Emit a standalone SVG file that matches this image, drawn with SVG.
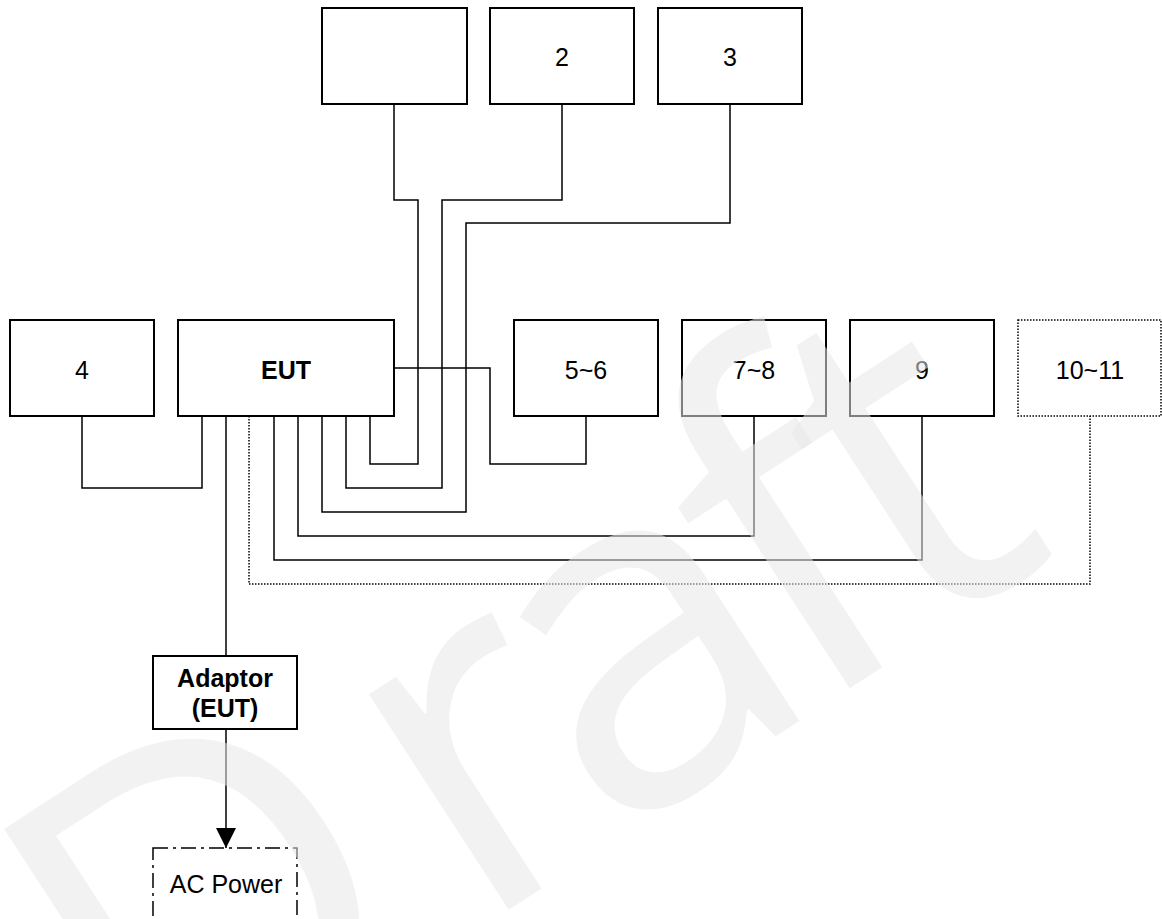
<svg xmlns="http://www.w3.org/2000/svg" width="1162" height="919" viewBox="0 0 1162 919">
<defs>
<style>
.box{fill:#fff;stroke:#000;stroke-width:2}
.dotbox{fill:#fff;stroke:#000;stroke-width:1.5;stroke-dasharray:1.5 1.5}
.ddbox{fill:#fff;stroke:#000;stroke-width:1.5;stroke-dasharray:15 5 3 5}
.lbl{font-family:"Liberation Sans",Arial,sans-serif;font-size:25px;text-anchor:middle;fill:#000}
.b{font-weight:bold}
.conn{fill:none;stroke:#000;stroke-width:1.5}
.dot{stroke-dasharray:1.5 1.5}
.wm{font-family:"Open Sans","Liberation Sans",sans-serif;font-size:480px;fill:#e7e7e7;fill-opacity:0.55}
</style>
<marker id="arr" markerWidth="20" markerHeight="20" refX="20" refY="10" orient="auto" markerUnits="userSpaceOnUse">
<path d="M0,0 L20,10 L0,20 z" fill="#000"/>
</marker>
</defs>
<rect width="1162" height="919" fill="#fff"/>
<g id="connectors">
<path class="conn" d="M394,104 V200 H418 V464 H370 V416"/>
<path class="conn" d="M562,104 V200 H442 V488 H346 V416"/>
<path class="conn" d="M730,104 V223 H466 V512 H322 V416"/>
<path class="conn" d="M82,416 V488 H202 V416"/>
<path class="conn" d="M394,368 H490 V464 H586 V416"/>
<path class="conn" d="M298,416 V536 H754 V416"/>
<path class="conn" d="M274,416 V560 H922 V416"/>
<path class="conn dot" d="M249,416 V584 H1090 V416"/>
<path class="conn" d="M226,416 V656"/>
<path class="conn" d="M226,729 V848" marker-end="url(#arr)"/>
</g>
<g id="n1"><rect class="box" x="322" y="8" width="145" height="96"/></g>
<g id="n2"><rect class="box" x="490" y="8" width="144" height="96"/><text class="lbl" x="562" y="66">2</text></g>
<g id="n3"><rect class="box" x="658" y="8" width="144" height="96"/><text class="lbl" x="730" y="66">3</text></g>
<g id="n4"><rect class="box" x="10" y="320" width="144" height="96"/><text class="lbl" x="82" y="379">4</text></g>
<g id="eut"><rect class="box" x="178" y="320" width="216" height="96"/><text class="lbl b" x="286" y="379">EUT</text></g>
<g id="n56"><rect class="box" x="514" y="320" width="144" height="96"/><text class="lbl" x="586" y="379">5~6</text></g>
<g id="n78"><rect class="box" x="682" y="320" width="144" height="96"/><text class="lbl" x="754" y="379">7~8</text></g>
<g id="n9"><rect class="box" x="850" y="320" width="144" height="96"/><text class="lbl" x="922" y="379">9</text></g>
<g id="n1011"><rect class="dotbox" x="1018" y="320" width="143" height="96"/><text class="lbl" x="1090" y="379">10~11</text></g>
<g id="adaptor"><rect class="box" x="153" y="656" width="144" height="73"/><text class="lbl b" x="225" y="687">Adaptor</text><text class="lbl b" x="225" y="717">(EUT)</text></g>
<g id="acpower"><rect class="ddbox" x="153" y="848" width="144" height="100"/><text class="lbl" x="226" y="893">AC Power</text></g>
<g id="watermark"><text class="wm" transform="translate(185 1120) rotate(-33)" x="-40 345 505 740 875" y="0">Draft</text></g>
</svg>
